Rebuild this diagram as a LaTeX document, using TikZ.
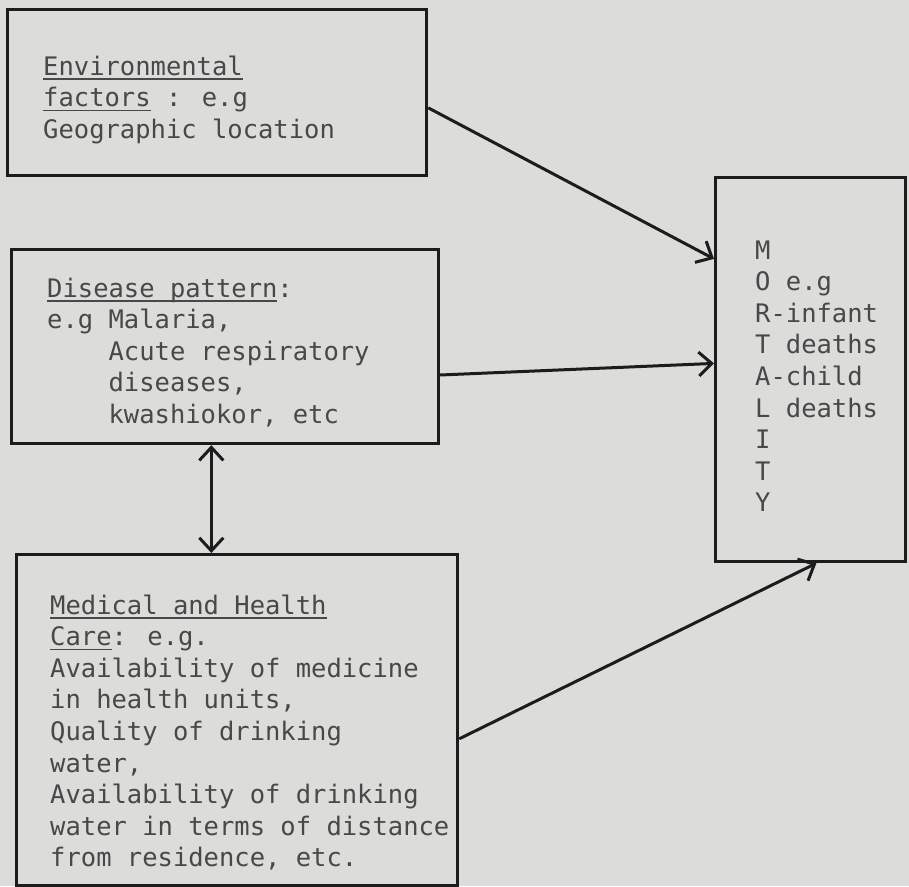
\documentclass[tikz,border=0pt]{standalone}
\usepackage{fontspec}
\usetikzlibrary{arrows.meta,calc}
\newfontfamily\twfont{DejaVu Sans Mono}
\definecolor{paper}{RGB}{220,220,218}
\definecolor{ink}{RGB}{28,28,28}
\definecolor{typeink}{RGB}{72,72,72}
\newsavebox\myulbox
\newcommand{\myul}[1]{\leavevmode\sbox\myulbox{#1}\rlap{\rule[-4.5pt]{\wd\myulbox}{1.3pt}}\usebox\myulbox}
\begin{document}
\begin{tikzpicture}[x=1pt,y=-1pt,
  boxshape/.style={draw=ink,line width=3.2pt,rectangle,inner sep=0pt,anchor=north west},
  txt/.style={anchor=base west,inner sep=0pt,text=typeink,font=\twfont},
  link/.style={draw=ink,line width=3pt,-{Straight Barb[length=13pt,width=24pt,line width=3pt]}},
  link2/.style={draw=ink,line width=3pt,{Straight Barb[length=13pt,width=24pt,line width=3pt]}-{Straight Barb[length=13pt,width=24pt,line width=3pt]}}
]
\fill[paper] (0,0) rectangle (909,886);
\useasboundingbox (0,0) rectangle (909,886);
\newcommand{\tline}[1]{\parbox[t]{430pt}{\fontsize{25.5}{31.6}\selectfont\raggedright #1}}
% boxes
\node[boxshape,minimum width=419pt,minimum height=166pt] (env) at (6,8) {};
\node[boxshape,minimum width=427pt,minimum height=194pt] (dis) at (10,248) {};
\node[boxshape,minimum width=441pt,minimum height=331pt] (med) at (15,553) {};
\node[boxshape,minimum width=190pt,minimum height=384pt] (mort) at (714,176) {};
% texts
\node[txt] (tenv) at (43,75) {\tline{\myul{Environmental}\\\myul{factors} : e.g\\Geographic location}};
\node[txt] (tdis) at (47,297) {\tline{\myul{Disease pattern}:\\e.g Malaria,\\\hphantom{e.g }Acute respiratory\\\hphantom{e.g }diseases,\\\hphantom{e.g }kwashiokor, etc}};
\node[txt] (tmed) at (50,614) {\tline{\myul{Medical and Health}\\\myul{Care}: e.g.\\Availability of medicine\\in health units,\\Quality of drinking\\water,\\Availability of drinking\\water in terms of distance\\from residence, etc.}};
\node[txt] (tmort) at (755,259) {\tline{M\\O e.g\\R-infant\\T deaths\\A-child\\L deaths\\I\\T\\Y}};
% connectors
\coordinate (a1s) at ($(env.north east)!0.59!(env.south east)$);
\coordinate (a1e) at ($(mort.north west)!0.214!(mort.south west)$);
\coordinate (a2s) at ($(dis.north east)!0.644!(dis.south east)$);
\coordinate (a2e) at ($(mort.north west)!0.484!(mort.south west)$);
\coordinate (a3s) at ($(med.north east)!0.556!(med.south east)$);
\coordinate (a3e) at ($(mort.south west)!0.53!(mort.south east)$);
\coordinate (d1) at ($(dis.south west)!0.468!(dis.south east)$);
\draw[link] (a1s) -- (a1e);
\draw[link] (a2s) -- (a2e);
\draw[link] (a3s) -- (a3e);
\draw[link2] (d1) -- (d1 |- med.north);
\end{tikzpicture}
\end{document}
